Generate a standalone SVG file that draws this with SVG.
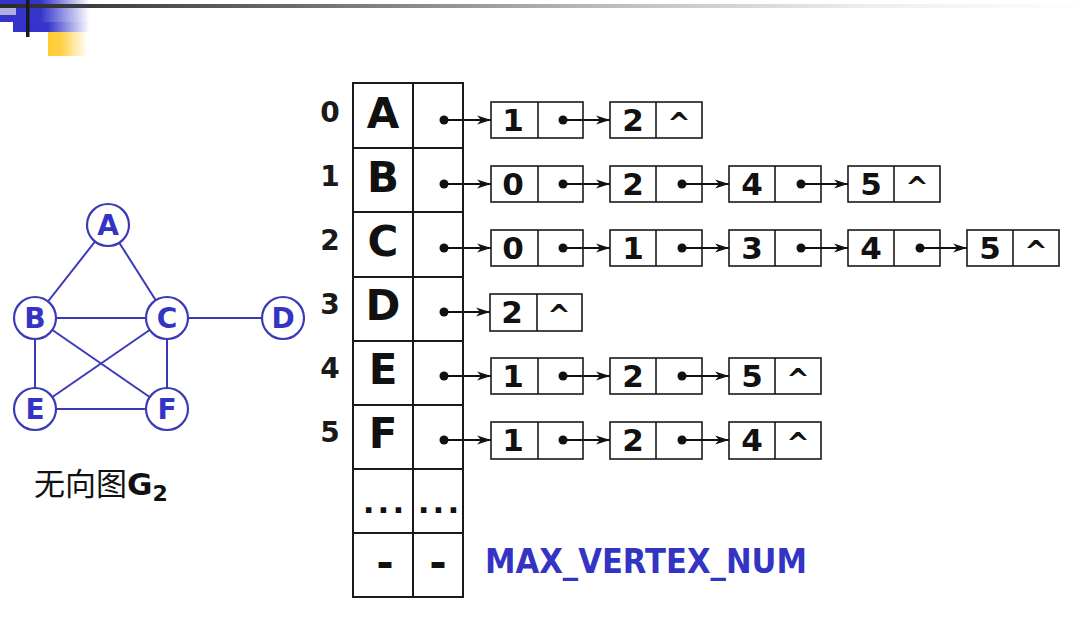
<svg xmlns="http://www.w3.org/2000/svg" width="1089" height="625" viewBox="0 0 1089 625">
<defs>
<linearGradient id="bar" x1="0" y1="0" x2="1" y2="0">
<stop offset="0" stop-color="#2a2a2a"/><stop offset="0.25" stop-color="#666"/><stop offset="0.55" stop-color="#bbb"/><stop offset="0.8" stop-color="#eee"/><stop offset="1" stop-color="#fff"/>
</linearGradient>
<linearGradient id="blue" x1="0" y1="0" x2="1" y2="0">
<stop offset="0" stop-color="#3333cc"/><stop offset="0.45" stop-color="#3535cc"/><stop offset="1" stop-color="#ffffff"/>
</linearGradient>
<linearGradient id="yel" x1="0" y1="0" x2="1" y2="0">
<stop offset="0" stop-color="#ffcc33"/><stop offset="0.3" stop-color="#ffd040"/><stop offset="1" stop-color="#ffffff"/>
</linearGradient>
<marker id="ah" viewBox="0 0 14 10" refX="14" refY="5" markerWidth="14" markerHeight="10" markerUnits="userSpaceOnUse" orient="auto">
<path d="M0,0.5 L14,5 L0,9.5 L4,5 Z" fill="#111"/>
</marker>
<style>
.tb{fill:#fff;stroke:#1a1a1a;stroke-width:2}
.nd{fill:#fff;stroke:#1a1a1a;stroke-width:1.6}
.ptr{stroke:#111;stroke-width:2;fill:none;marker-end:url(#ah)}
.dot{fill:#111}
.idx{font-family:"DejaVu Sans",sans-serif;font-weight:bold;font-size:28px;fill:#1a1a1a;text-anchor:middle}
.vx{font-family:"DejaVu Sans",sans-serif;font-weight:bold;font-size:42px;fill:#111;text-anchor:middle}
.num{font-family:"DejaVu Sans",sans-serif;font-weight:bold;font-size:31px;fill:#111;text-anchor:middle}
.nil{font-family:"DejaVu Sans",sans-serif;font-weight:bold;font-size:28px;fill:#111;text-anchor:middle}
.gc{fill:#fff;stroke:#3a3ab8;stroke-width:2.2}
.ge{stroke:#3a3ab8;stroke-width:2;fill:none}
.gl{font-family:"DejaVu Sans",sans-serif;font-weight:bold;font-size:28px;fill:#3434c4;text-anchor:middle}
.cap{font-family:"Noto Sans CJK SC","DejaVu Sans",sans-serif;font-size:31px;fill:#111}
.blue{font-family:"DejaVu Sans",sans-serif;font-weight:bold;font-size:33px;fill:#3434c4}
</style>
</defs>
<rect width="1089" height="625" fill="#fff"/>
<g id="decoration">
<rect x="0" y="0" width="90" height="22" fill="url(#blue)"/>
<rect x="13" y="22" width="77" height="10" fill="url(#blue)"/>
<rect x="0" y="7" width="16" height="8" fill="#b0b0e0"/>
<rect x="48" y="32" width="40" height="24" fill="url(#yel)"/>
<rect x="0" y="4" width="1089" height="4" fill="url(#bar)"/>
<rect x="26" y="0" width="3.5" height="37" fill="#1a1a1a"/>
</g>
<g id="graph">
<g id="graph-edges">
<line class="ge" x1="108" y1="225" x2="35" y2="318"/>
<line class="ge" x1="108" y1="225" x2="167" y2="318"/>
<line class="ge" x1="35" y1="318" x2="167" y2="318"/>
<line class="ge" x1="167" y1="318" x2="283" y2="318"/>
<line class="ge" x1="35" y1="318" x2="35" y2="409"/>
<line class="ge" x1="35" y1="318" x2="167" y2="409"/>
<line class="ge" x1="167" y1="318" x2="35" y2="409"/>
<line class="ge" x1="167" y1="318" x2="167" y2="409"/>
<line class="ge" x1="35" y1="409" x2="167" y2="409"/>
</g>
<g id="gA"><circle class="gc" cx="108" cy="225" r="21"/><text class="gl" x="108" y="235">A</text></g>
<g id="gB"><circle class="gc" cx="35" cy="318" r="21"/><text class="gl" x="35" y="328">B</text></g>
<g id="gC"><circle class="gc" cx="167" cy="318" r="21"/><text class="gl" x="167" y="328">C</text></g>
<g id="gD"><circle class="gc" cx="283" cy="318" r="21"/><text class="gl" x="283" y="328">D</text></g>
<g id="gE"><circle class="gc" cx="35" cy="409" r="21"/><text class="gl" x="35" y="419">E</text></g>
<g id="gF"><circle class="gc" cx="167" cy="409" r="21"/><text class="gl" x="167" y="419">F</text></g>
<text id="caption" class="cap" x="34" y="495">无向图<tspan font-family="DejaVu Sans" font-weight="bold" font-size="31">G</tspan><tspan font-family="DejaVu Sans" font-weight="bold" font-size="22" dy="6">2</tspan></text>
</g>
<g id="table">
<rect class="tb" x="353" y="83" width="60" height="514"/>
<rect class="tb" x="413" y="83" width="50" height="514"/>
<g stroke="#1a1a1a" stroke-width="2">
<line x1="353" y1="148" x2="463" y2="148"/>
<line x1="353" y1="212" x2="463" y2="212"/>
<line x1="353" y1="277" x2="463" y2="277"/>
<line x1="353" y1="341" x2="463" y2="341"/>
<line x1="353" y1="405" x2="463" y2="405"/>
<line x1="353" y1="469" x2="463" y2="469"/>
<line x1="353" y1="533" x2="463" y2="533"/>
</g>
<text class="idx" x="330" y="122">0</text>
<text class="idx" x="330" y="186">1</text>
<text class="idx" x="330" y="250">2</text>
<text class="idx" x="330" y="314">3</text>
<text class="idx" x="330" y="378">4</text>
<text class="idx" x="330" y="442">5</text>
<text class="vx" x="383" y="128">A</text>
<text class="vx" x="383" y="192">B</text>
<text class="vx" x="383" y="256">C</text>
<text class="vx" x="383" y="320">D</text>
<text class="vx" x="383" y="384">E</text>
<text class="vx" x="383" y="448">F</text>
<text class="num" x="385" y="513" font-size="34" letter-spacing="3">...</text>
<text class="num" x="440" y="513" font-size="34" letter-spacing="3">...</text>
<text class="vx" x="385" y="577" font-size="40">-</text>
<text class="vx" x="438" y="577" font-size="40">-</text>
</g>
<text id="maxnum" class="blue" x="485" y="573" textLength="322" lengthAdjust="spacingAndGlyphs">MAX_VERTEX_NUM</text>
<g id="row0">
<g id="n0-1"><rect class="nd" x="491" y="102" width="92" height="36"/><line class="nd" x1="538" y1="102" x2="538" y2="138"/><text class="num" x="513" y="131">1</text></g>
<g id="n0-2"><rect class="nd" x="610" y="102" width="92" height="36"/><line class="nd" x1="656" y1="102" x2="656" y2="138"/><text class="num" x="633" y="131">2</text><text class="nil" x="679" y="133">^</text></g>
</g>
<g id="row1">
<g id="n1-0"><rect class="nd" x="491" y="166" width="92" height="36"/><line class="nd" x1="538" y1="166" x2="538" y2="202"/><text class="num" x="513" y="195">0</text></g>
<g id="n1-2"><rect class="nd" x="610" y="166" width="92" height="36"/><line class="nd" x1="656" y1="166" x2="656" y2="202"/><text class="num" x="633" y="195">2</text></g>
<g id="n1-4"><rect class="nd" x="729" y="166" width="92" height="36"/><line class="nd" x1="775" y1="166" x2="775" y2="202"/><text class="num" x="752" y="195">4</text></g>
<g id="n1-5"><rect class="nd" x="848" y="166" width="92" height="36"/><line class="nd" x1="894" y1="166" x2="894" y2="202"/><text class="num" x="871" y="195">5</text><text class="nil" x="917" y="197">^</text></g>
</g>
<g id="row2">
<g id="n2-0"><rect class="nd" x="491" y="230" width="92" height="36"/><line class="nd" x1="538" y1="230" x2="538" y2="266"/><text class="num" x="513" y="259">0</text></g>
<g id="n2-1"><rect class="nd" x="610" y="230" width="92" height="36"/><line class="nd" x1="656" y1="230" x2="656" y2="266"/><text class="num" x="633" y="259">1</text></g>
<g id="n2-3"><rect class="nd" x="729" y="230" width="92" height="36"/><line class="nd" x1="775" y1="230" x2="775" y2="266"/><text class="num" x="752" y="259">3</text></g>
<g id="n2-4"><rect class="nd" x="848" y="230" width="92" height="36"/><line class="nd" x1="894" y1="230" x2="894" y2="266"/><text class="num" x="871" y="259">4</text></g>
<g id="n2-5"><rect class="nd" x="967" y="230" width="92" height="36"/><line class="nd" x1="1013" y1="230" x2="1013" y2="266"/><text class="num" x="990" y="259">5</text><text class="nil" x="1036" y="261">^</text></g>
</g>
<g id="row3">
<g id="n3-2"><rect class="nd" x="490" y="294" width="92" height="37"/><line class="nd" x1="537" y1="294" x2="537" y2="331"/><text class="num" x="512" y="323">2</text><text class="nil" x="559" y="325">^</text></g>
</g>
<g id="row4">
<g id="n4-1"><rect class="nd" x="491" y="358" width="92" height="36"/><line class="nd" x1="538" y1="358" x2="538" y2="394"/><text class="num" x="513" y="387">1</text></g>
<g id="n4-2"><rect class="nd" x="610" y="358" width="92" height="36"/><line class="nd" x1="656" y1="358" x2="656" y2="394"/><text class="num" x="633" y="387">2</text></g>
<g id="n4-5"><rect class="nd" x="729" y="358" width="92" height="36"/><line class="nd" x1="775" y1="358" x2="775" y2="394"/><text class="num" x="752" y="387">5</text><text class="nil" x="798" y="389">^</text></g>
</g>
<g id="row5">
<g id="n5-1"><rect class="nd" x="491" y="422" width="92" height="37"/><line class="nd" x1="538" y1="422" x2="538" y2="459"/><text class="num" x="513" y="451">1</text></g>
<g id="n5-2"><rect class="nd" x="610" y="422" width="92" height="37"/><line class="nd" x1="656" y1="422" x2="656" y2="459"/><text class="num" x="633" y="451">2</text></g>
<g id="n5-4"><rect class="nd" x="729" y="422" width="92" height="37"/><line class="nd" x1="775" y1="422" x2="775" y2="459"/><text class="num" x="752" y="451">4</text><text class="nil" x="798" y="453">^</text></g>
</g>
<g id="connectors">
<line class="ptr" x1="444" y1="120" x2="491" y2="120"/>
<line class="ptr" x1="563" y1="120" x2="610" y2="120"/>
<line class="ptr" x1="444" y1="184" x2="491" y2="184"/>
<line class="ptr" x1="563" y1="184" x2="610" y2="184"/>
<line class="ptr" x1="682" y1="184" x2="729" y2="184"/>
<line class="ptr" x1="801" y1="184" x2="848" y2="184"/>
<line class="ptr" x1="444" y1="248" x2="491" y2="248"/>
<line class="ptr" x1="563" y1="248" x2="610" y2="248"/>
<line class="ptr" x1="682" y1="248" x2="729" y2="248"/>
<line class="ptr" x1="801" y1="248" x2="848" y2="248"/>
<line class="ptr" x1="920" y1="248" x2="967" y2="248"/>
<line class="ptr" x1="444" y1="312" x2="490" y2="312"/>
<line class="ptr" x1="444" y1="376" x2="491" y2="376"/>
<line class="ptr" x1="563" y1="376" x2="610" y2="376"/>
<line class="ptr" x1="682" y1="376" x2="729" y2="376"/>
<line class="ptr" x1="444" y1="440" x2="491" y2="440"/>
<line class="ptr" x1="563" y1="440" x2="610" y2="440"/>
<line class="ptr" x1="682" y1="440" x2="729" y2="440"/>
<g class="dot">
<circle cx="444" cy="120" r="4.5"/><circle cx="444" cy="184" r="4.5"/><circle cx="444" cy="248" r="4.5"/>
<circle cx="444" cy="312" r="4.5"/><circle cx="444" cy="376" r="4.5"/><circle cx="444" cy="440" r="4.5"/>
<circle cx="563" cy="120" r="4.5"/>
<circle cx="563" cy="184" r="4.5"/><circle cx="682" cy="184" r="4.5"/><circle cx="801" cy="184" r="4.5"/>
<circle cx="563" cy="248" r="4.5"/><circle cx="682" cy="248" r="4.5"/><circle cx="801" cy="248" r="4.5"/><circle cx="920" cy="248" r="4.5"/>
<circle cx="563" cy="376" r="4.5"/><circle cx="682" cy="376" r="4.5"/>
<circle cx="563" cy="440" r="4.5"/><circle cx="682" cy="440" r="4.5"/>
</g>
</g>
</svg>
